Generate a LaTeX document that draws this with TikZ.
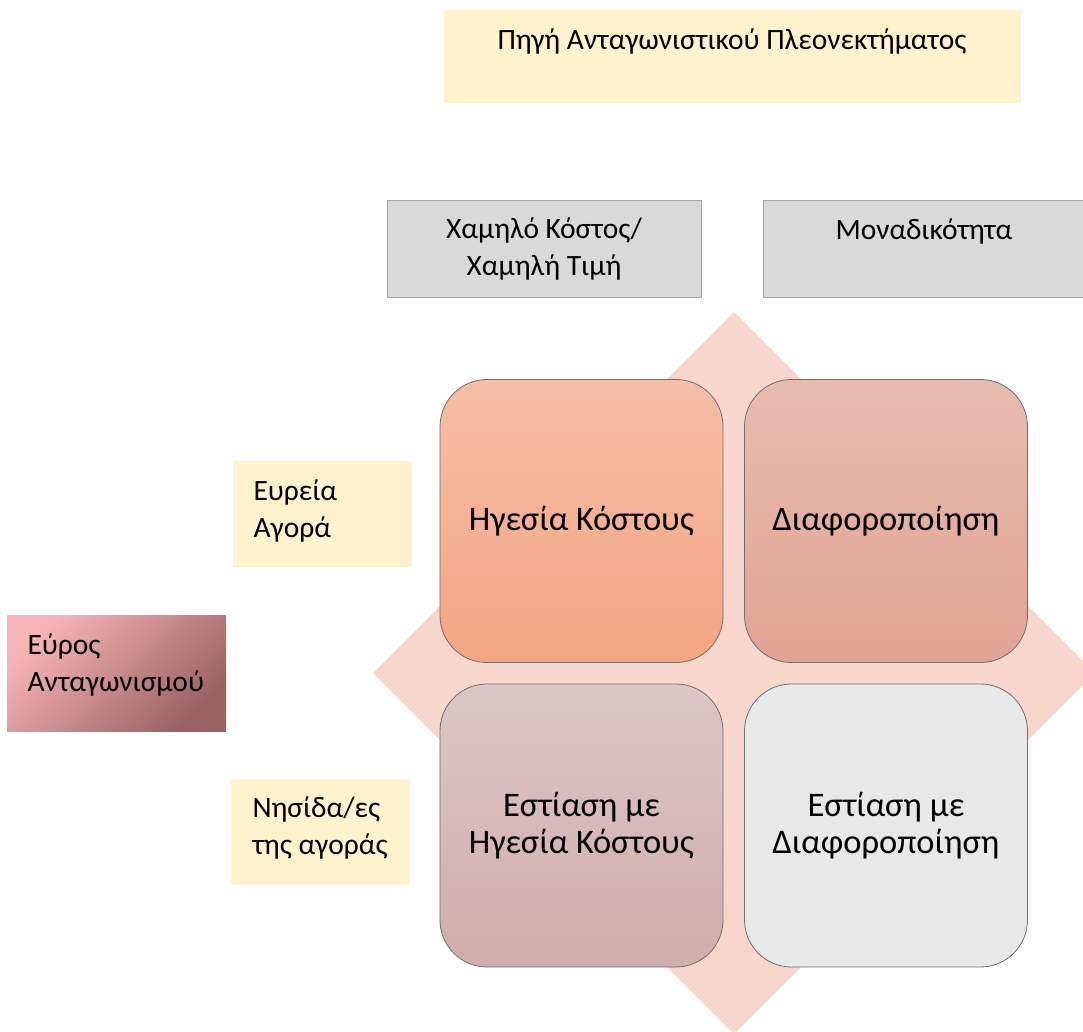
\documentclass[tikz,border=0pt]{standalone}
\usepackage{fontspec}
\setmainfont{Carlito}
\definecolor{headyellow}{HTML}{FFF2CC}
\definecolor{headgrey}{HTML}{D9D9D9}
\definecolor{greyedge}{HTML}{A6A6A6}
\definecolor{celledge}{HTML}{6E6E6E}
\definecolor{diamondfill}{HTML}{F7D7CC}
\definecolor{scopelight}{HTML}{F8B5B7}
\definecolor{scopedark}{HTML}{9A6163}
\definecolor{cltop}{HTML}{F5BEA6}
\definecolor{clbot}{HTML}{F5A582}
\definecolor{dftop}{HTML}{E8BCB0}
\definecolor{dfbot}{HTML}{E0A393}
\definecolor{fctop}{HTML}{DEC6C6}
\definecolor{fcbot}{HTML}{CFADAA}
\definecolor{fdfill}{HTML}{E8E8E8}
\begin{document}
\begin{tikzpicture}[x=1pt,y=-1pt,
  greybox/.style={draw=greyedge,line width=1pt,fill=headgrey},
  cell/.style={draw=celledge,line width=0.8pt,rounded corners=47pt,inner sep=0pt,
    minimum width=283pt,minimum height=283pt},
  small/.style={font=\fontsize{29.5}{37.5}\selectfont},
  big/.style={font=\fontsize{34.5}{37}\selectfont,align=center}
]
\useasboundingbox (0,0) rectangle (1083,1032);
\clip (0,0) rectangle (1083,1032);

% heading
\fill[headyellow] (444,10) rectangle (1021,103);
\node[small,anchor=center] (src) at (732,41) {Πηγή Ανταγωνιστικού Πλεονεκτήματος};

% column headings
\draw[greybox] (387,201) rectangle (701,297);
\node[small,align=center] (low) at (544,249) {Χαμηλό Κόστος/\\Χαμηλή Τιμή};
\draw[greybox] (763,201) rectangle (1090,297);
\node[small] (uniq) at (924,231) {Μοναδικότητα};

% row headings
\fill[headyellow] (233,461) rectangle (412,567);
\node[small,align=left,anchor=west] (broad) at (250,511) {Ευρεία\\Αγορά};
\fill[headyellow] (231,779) rectangle (410,885);
\node[small,align=left,anchor=west] (niche) at (249,828) {Νησίδα/ες\\της αγοράς};

\shade[left color=scopelight,right color=scopedark,shading angle=45] (7,615) rectangle (226,731);
\node[small,align=left,anchor=west] (scope) at (24,665) {Εύρος\\Ανταγωνισμού};

% background diamond
\fill[diamondfill] (734,312) -- (1095,673) -- (734,1034) -- (373,673) -- cycle;

% the four strategy cells
\node[cell,top color=cltop,bottom color=clbot] (cl) at (581.5,521) {};
\node[big] at (cl) {Ηγεσία Κόστους};
\node[cell,top color=dftop,bottom color=dfbot] (df) at (886,521) {};
\node[big] at (df) {Διαφοροποίηση};
\node[cell,top color=fctop,bottom color=fcbot] (fc) at (581.5,825.5) {};
\node[big] at (fc) {Εστίαση με\\Ηγεσία Κόστους};
\node[cell,fill=fdfill] (fd) at (886,825.5) {};
\node[big] at (fd) {Εστίαση με\\Διαφοροποίηση};
\end{tikzpicture}
\end{document}
